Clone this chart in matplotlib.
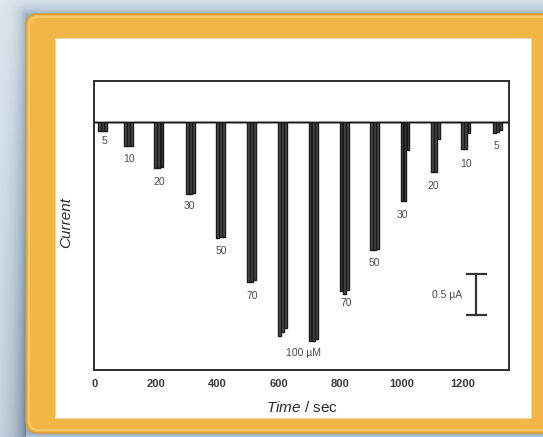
import numpy as np
import matplotlib
matplotlib.use("Agg")
import matplotlib.pyplot as plt
from matplotlib.patches import FancyBboxPatch, Rectangle

plt.rcParams['font.family'] = ['Liberation Sans', 'DejaVu Sans']
plt.rcParams['mathtext.fontset'] = 'custom'
plt.rcParams['mathtext.it'] = 'Liberation Sans:italic'
plt.rcParams['mathtext.rm'] = 'Liberation Sans'

# ---------------- data (time in s, current in µA relative to baseline) ----------------
peak_start = [12, 98, 196, 298, 396, 498, 599, 698, 799, 898, 997, 1096, 1195, 1298]
depth_a = [0.11, 0.29, 0.55, 0.86, 1.39, 1.92, 2.57, 2.63, 2.03, 1.54, 0.95, 0.60, 0.32, 0.13]
depth_b = [0.11, 0.29, 0.55, 0.86, 1.38, 1.92, 2.52, 2.63, 2.06, 1.53, 0.95, 0.60, 0.32, 0.12]
depth_c = [0.10, 0.28, 0.54, 0.85, 1.38, 1.90, 2.47, 2.60, 2.01, 1.52, 0.33, 0.20, 0.13, 0.09]

conc_labels = ['5', '10', '20', '30', '50', '70', '100 µM', '70', '50', '30', '20', '10', '5']
label_t = [32, 113, 212, 311, 413, 514, 680, 821, 912, 1004, 1103, 1210, 1309]
label_y = [-0.23, -0.44, -0.72, -1.01, -1.55, -2.09, -2.77, -2.17, -1.69, -1.11, -0.76, -0.50, -0.28]

x_ticks = [0, 200, 400, 600, 800, 1000, 1200]
scale_bar_t = 1244
scale_bar_top = -1.82
scale_bar_len = 0.5
scale_bar_label = '0.5 µA'

# ---------------- figure & decorative frame ----------------
W, H = 543, 437
fig = plt.figure(figsize=(W / 100, H / 100), dpi=100)
bg = fig.add_axes([0, 0, 1, 1], zorder=-10)
bg.set_xlim(0, W)
bg.set_ylim(H, 0)
bg.axis('off')

yy, xx = np.mgrid[0:H, 0:W]
fx0, fy0, fy1 = 26, 14, 433
dx = np.clip(fx0 - xx, 0, None)
dy = np.maximum(np.clip(fy0 - yy, 0, None), np.clip(yy - fy1, 0, None))
dist = np.sqrt(dx ** 2 + dy ** 2)
light = np.array([0.87, 0.905, 0.935])
dark = np.array([0.42, 0.53, 0.63])
shade = 0.6 * np.exp(-dist / 7.0)
leftgrad = np.where(xx < fx0, 0.5 * np.clip(yy / H, 0, 1) * (0.4 + 0.6 * xx / fx0), 0)
k = np.clip(shade + leftgrad, 0, 1)[..., None]
img = light * (1 - k) + dark * k
bg.imshow(img, extent=(0, W, H, 0), aspect='auto', interpolation='bilinear')

bg.add_patch(FancyBboxPatch((fx0, fy0), 600, fy1 - fy0,
                            boxstyle="round,pad=0,rounding_size=12",
                            facecolor='#F2B646', edgecolor='#D89A2C', lw=1.0))
bg.add_patch(FancyBboxPatch((fx0 + 3, fy0 + 3), 600, fy1 - fy0 - 6,
                            boxstyle="round,pad=0,rounding_size=10",
                            facecolor='none', edgecolor='#F7CB72', lw=1.2))
bg.add_patch(Rectangle((54.5, 37.7), 476, 380.6, facecolor='white',
                       edgecolor='#EAD9B5', lw=0.8))

# ---------------- main plot ----------------
left, right, bottom, top = 94.2, 509.0, 369.5, 81.0
ax = fig.add_axes([left / W, 1 - bottom / H, (right - left) / W, (bottom - top) / H])
ax.set_facecolor('white')

t_end = 1350
off = [0, 10, 20]
width = 9
for j, depths in enumerate([depth_a, depth_b, depth_c]):
    tt, yv = [0], [0.0]
    for ts, d in zip(peak_start, depths):
        s = ts + off[j]
        tt += [s, s, s + width, s + width]
        yv += [0.0, -d, -d, 0.0]
    tt.append(t_end)
    yv.append(0.0)
    tt = np.array(tt, dtype=float)
    yv = np.array(yv)
    ax.fill_between(tt, yv, 0, color='#4e4e4e', lw=0, zorder=2)
    ax.plot(tt, yv, color='#1a1a1a', lw=1.0, zorder=3)

for txt, t, y in zip(conc_labels, label_t, label_y):
    ax.text(t, y, txt, ha='center', va='center', fontsize=7.5, color='#4a4a4a')

# scale bar
ax.plot([scale_bar_t, scale_bar_t], [scale_bar_top, scale_bar_top - scale_bar_len],
        color='#333333', lw=1.6, zorder=3)
for yb in (scale_bar_top, scale_bar_top - scale_bar_len):
    ax.plot([scale_bar_t - 32, scale_bar_t + 32], [yb, yb], color='#333333', lw=1.6, zorder=3)
ax.text(scale_bar_t - 45, scale_bar_top - scale_bar_len / 2, scale_bar_label,
        ha='right', va='center', fontsize=7.5, color='#4a4a4a')

ax.set_xlim(0, t_end)
ax.set_ylim(-2.969, 0.495)
ax.set_xticks(x_ticks)
ax.set_xticklabels([str(v) for v in x_ticks], fontweight='bold', fontsize=8, color='#3a3a3a')
ax.tick_params(axis='x', length=0, pad=6.5)
ax.set_yticks([])
for sp in ax.spines.values():
    sp.set_color('#2e2e2e')
    sp.set_linewidth(1.4)

fig.text(301.6 / W, 1 - 408 / H, r'$\mathit{Time}$ / sec', ha='center', va='center',
         fontsize=11, color='#2a2a2a')
fig.text(65.8 / W, 1 - 223 / H, 'Current', rotation=90, ha='center', va='center',
         fontsize=11, style='italic', color='#2a2a2a')

fig.savefig('out.png', dpi=100)
